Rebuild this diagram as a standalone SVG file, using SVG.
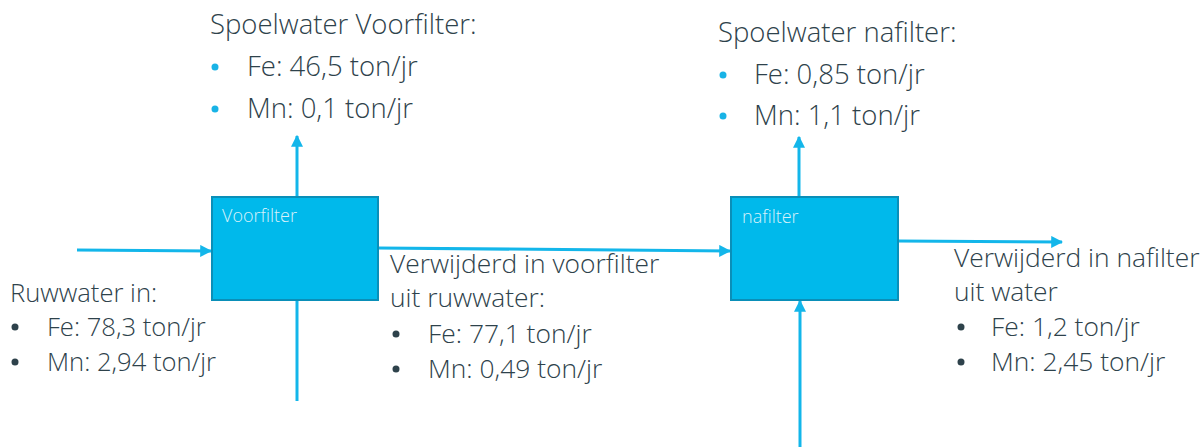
<svg xmlns="http://www.w3.org/2000/svg" width="1200" height="447" viewBox="0 0 1200 447">
<defs>
<style>
.t{font-family:"Open Sans","Liberation Sans",sans-serif;font-weight:300;font-size:26.4px;fill:#2e424b}
.top{font-size:27.5px}
.left{font-size:25.6px}
.lbl{font-family:"Open Sans","Liberation Sans",sans-serif;font-weight:300;font-size:18px;fill:#d8f2fb}
.box{fill:#00b9eb;stroke:#0a8fb8;stroke-width:2}
.ln{stroke:#13b6ea;stroke-width:3;fill:none}
.bb{fill:#19b3e6}
.bk{fill:#2e424b}
</style>
<marker id="ah" viewBox="0 0 10 10" refX="9" refY="5" markerWidth="4" markerHeight="4" orient="auto" markerUnits="strokeWidth">
<path d="M0,0 L10,5 L0,10 z" fill="#13b6ea"/>
</marker>
</defs>
<rect width="1200" height="447" fill="#fff"/>
<g id="connectors">
<line class="ln" x1="77" y1="250" x2="211" y2="251" marker-end="url(#ah)"/>
<line class="ln" x1="297" y1="197" x2="297" y2="136" marker-end="url(#ah)"/>
<line class="ln" x1="297" y1="300" x2="297" y2="401"/>
<line class="ln" x1="378" y1="248" x2="730" y2="251" marker-end="url(#ah)"/>
<line class="ln" x1="799" y1="197" x2="799" y2="137" marker-end="url(#ah)"/>
<line class="ln" x1="800" y1="447" x2="800" y2="301" marker-end="url(#ah)"/>
<line class="ln" x1="898" y1="241" x2="1062" y2="242" marker-end="url(#ah)"/>
</g>
<g id="voorfilter">
<rect class="box" x="212" y="197" width="166" height="103"/>
<text class="lbl" x="222" y="222">Voorfilter</text>
</g>
<g id="nafilter">
<rect class="box" x="731" y="197" width="167" height="103"/>
<text class="lbl" x="742" y="223">nafilter</text>
</g>
<g id="spoelwater-voorfilter" class="t top">
<text x="210" y="34">Spoelwater Voorfilter:</text>
<circle class="bb" cx="215" cy="67" r="3.5"/>
<text x="247" y="76">Fe: 46,5 ton/jr</text>
<circle class="bb" cx="215" cy="109" r="3.5"/>
<text x="247" y="118">Mn: 0,1 ton/jr</text>
</g>
<g id="spoelwater-nafilter" class="t top">
<text x="718" y="42">Spoelwater nafilter:</text>
<circle class="bb" cx="723" cy="75" r="3.5"/>
<text x="754" y="84">Fe: 0,85 ton/jr</text>
<circle class="bb" cx="723" cy="116" r="3.5"/>
<text x="754" y="125">Mn: 1,1 ton/jr</text>
</g>
<g id="ruwwater-in" class="t left">
<text x="10" y="302">Ruwwater in:</text>
<circle class="bk" cx="15" cy="327" r="3.5"/>
<text x="47" y="336">Fe: 78,3 ton/jr</text>
<circle class="bk" cx="15" cy="362" r="3.5"/>
<text x="47" y="371">Mn: 2,94 ton/jr</text>
</g>
<g id="verwijderd-voorfilter" class="t">
<text x="390" y="273">Verwijderd in voorfilter</text>
<text x="390" y="307">uit ruwwater:</text>
<circle class="bk" cx="396" cy="334" r="3.5"/>
<text x="428" y="343">Fe: 77,1 ton/jr</text>
<circle class="bk" cx="396" cy="369" r="3.5"/>
<text x="428" y="378">Mn: 0,49 ton/jr</text>
</g>
<g id="verwijderd-nafilter" class="t">
<text x="954" y="267">Verwijderd in nafilter</text>
<text x="954" y="301">uit water</text>
<circle class="bk" cx="961" cy="327" r="3.5"/>
<text x="991" y="336">Fe: 1,2 ton/jr</text>
<circle class="bk" cx="961" cy="362" r="3.5"/>
<text x="991" y="371">Mn: 2,45 ton/jr</text>
</g>
</svg>
